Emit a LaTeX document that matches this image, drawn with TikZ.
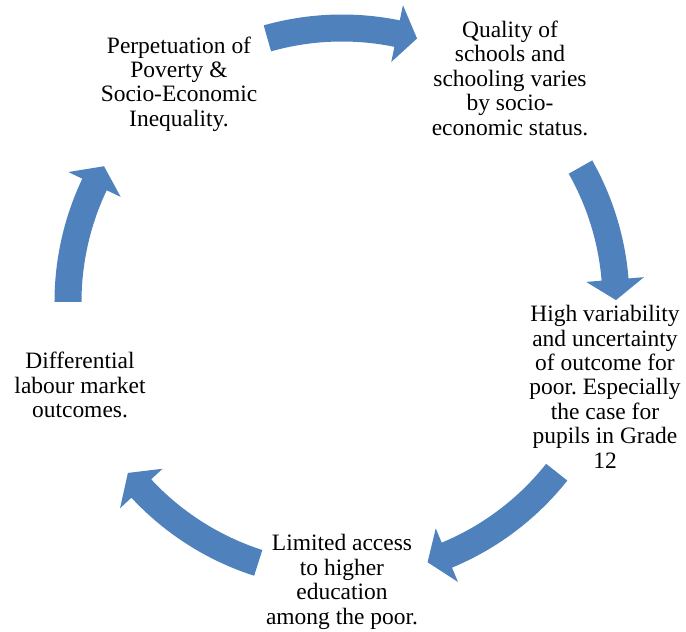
\documentclass[tikz,border=0pt]{standalone}
\usepackage{fontspec}
\setmainfont{Liberation Serif}
\usepackage{xcolor}
\definecolor{cycblue}{RGB}{79,129,189}
\frenchspacing
% curved block arrow on the cycle: #1 tail angle, #2 tip angle
\newcommand{\cyclearrow}[2]{%
  \fill[cycblue] (#1:7.1875) arc[start angle=#1, end angle=#2+4.3, radius=7.1875]
    -- (#2+4.3:7.575) -- (#2:6.85) -- (#2+4.3:6.125)
    -- (#2+4.3:6.5125) arc[start angle=#2+4.3, end angle=#1, radius=6.5125] -- cycle;}

\begin{document}
\begin{tikzpicture}[
    stage/.style={align=center, inner sep=0pt,
                  font=\fontsize{16.7}{17.4}\selectfont}
]
\useasboundingbox (-8.55,-8.25) rectangle (8.6,7.55);

\node[stage] (perp)  at (-4.075,5.45) {Perpetuation of\\Poverty \&\\Socio-Economic\\Inequality.};
\node[stage] (qual)  at (4.2,5.6)     {Quality of\\schools and\\schooling varies\\by socio-\\economic status.};
\node[stage] (vari)  at (6.575,-2.12) {High variability\\and uncertainty\\of outcome for\\poor. Especially\\the case for\\pupils in Grade\\12};
\node[stage] (acc)   at (0.0,-7.0)    {Limited access\\to higher\\education\\among the poor.};
\node[stage] (lab)   at (-6.55,-2.075) {Differential\\labour market\\outcomes.};

\cyclearrow{105.8}{74.1}
\cyclearrow{29.5}{0.4}
\cyclearrow{-38.4}{-71.8}
\cyclearrow{-107.8}{-141.4}
\cyclearrow{180}{150.3}
\end{tikzpicture}
\end{document}
